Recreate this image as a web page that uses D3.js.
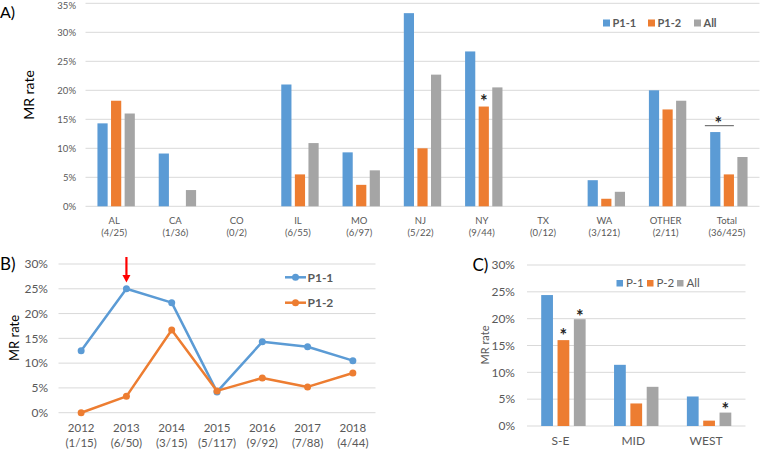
<!DOCTYPE html>
<html><head><meta charset="utf-8">
<script src="https://cdn.jsdelivr.net/npm/d3@7/dist/d3.min.js"></script>
<style>
html,body{margin:0;padding:0;background:#fff;}
svg text{font-family:Lato,"Liberation Sans",sans-serif;}
</style></head><body>
<svg id="c" width="760" height="449"></svg>
<script>
// Panel A data
const categoriesA = ["AL","CA","CO","IL","MO","NJ","NY","TX","WA","OTHER","Total"];
const countsA = ["(4/25)","(1/36)","(0/2)","(6/55)","(6/97)","(5/22)","(9/44)","(0/12)","(3/121)","(2/11)","(36/425)"];
const p11A = [14.3, 9.1, 0, 21.0, 9.3, 33.3, 26.7, 0, 4.5, 20.0, 12.8];
const p12A = [18.2, 0, 0, 5.5, 3.7, 10.0, 17.2, 0, 1.3, 16.7, 5.5];
const allA = [16.0, 2.8, 0, 10.9, 6.2, 22.7, 20.5, 0, 2.5, 18.2, 8.5];
const seriesA = ["P1-1","P1-2","All"];
const ticksA = [0,5,10,15,20,25,30,35];

// Panel B data
const years = ["2012","2013","2014","2015","2016","2017","2018"];
const yearCounts = ["(1/15)","(6/50)","(3/15)","(5/117)","(9/92)","(7/88)","(4/44)"];
const p11B = [12.5, 25.0, 22.2, 4.2, 14.3, 13.3, 10.5];
const p12B = [0, 3.3, 16.7, 4.4, 7.0, 5.2, 8.0];
const seriesB = ["P1-1","P1-2"];
const ticksB = [0,5,10,15,20,25,30];

// Panel C data
const regions = ["S-E","MID","WEST"];
const p1C = [24.4, 11.4, 5.5];
const p2C = [16.0, 4.2, 1.0];
const allC = [19.9, 7.3, 2.5];
const seriesC = ["P-1","P-2","All"];
const ticksC = [0,5,10,15,20,25,30];

const colors = ["#5B9BD5","#ED7D31","#A5A5A5"];
const txt = "#595959", grid = "#D9D9D9";
const svg = d3.select("#c");

function yAxis(g, y, ticks, x0, x1, labelX, fs, minY){
  g.selectAll(".gl").data(ticks).join("line")
    .attr("x1",x0).attr("x2",x1).attr("y1",d=>y(d)).attr("y2",d=>y(d))
    .attr("stroke",grid).attr("stroke-width",1);
  g.selectAll(".tl").data(ticks).join("text")
    .attr("x",labelX).attr("y",d=>Math.max(y(d), minY||0)).attr("dy","0.35em")
    .attr("text-anchor","end").attr("font-size",fs).attr("fill",txt)
    .text(d=>d+"%");
}
function star(g, x, y){
  g.append("text").attr("x",x).attr("y",y).attr("text-anchor","middle")
    .attr("font-family","'DejaVu Sans',sans-serif").attr("font-size",18)
    .attr("font-weight","bold").attr("fill","#262626").text("*");
}

// ---------- Panel A ----------
{
  const g = svg.append("g");
  const y = d3.scaleLinear().domain([0,35]).range([206.3,3.3]);
  const x = d3.scaleBand().domain(categoriesA).range([85.5,759.5]);
  yAxis(g, y, ticksA, 85.5, 759.5, 76, 9.5, 5.5);
  const gw = x.step()*0.61;
  const xs = d3.scaleBand().domain(seriesA).range([0,gw]).paddingInner(0.25);
  const vals = [p11A,p12A,allA];
  seriesA.forEach((s,si)=>{
    g.selectAll(".b"+si).data(categoriesA).join("rect")
      .attr("x",d=>x(d)+x.bandwidth()/2-gw/2+xs(s))
      .attr("width",xs.bandwidth())
      .attr("y",(d,i)=>y(vals[si][i]))
      .attr("height",(d,i)=>y(0)-y(vals[si][i]))
      .attr("fill",colors[si]);
  });
  categoriesA.forEach((c,i)=>{
    const cx = x(c)+x.bandwidth()/2-2;
    g.append("text").attr("x",cx).attr("y",223.5).attr("text-anchor","middle")
      .attr("font-size",9.5).attr("fill",txt).text(c);
    g.append("text").attr("x",cx).attr("y",235.5).attr("text-anchor","middle")
      .attr("font-size",9.5).attr("fill",txt).text(countsA[i]);
  });
  // asterisks
  const ny = categoriesA.indexOf("NY");
  star(g, x("NY")+x.bandwidth()/2-gw/2+xs("P1-2")+xs.bandwidth()/2, y(p12A[ny])+1.5);
  const tx = x("Total")+x.bandwidth()/2;
  g.append("line").attr("x1",tx-24).attr("x2",tx+5).attr("y1",125.7).attr("y2",125.7)
    .attr("stroke","#595959").attr("stroke-width",1);
  star(g, tx-10.5, 129.5);
  // legend
  const lx = [603,648,694];
  seriesA.forEach((s,i)=>{
    g.append("rect").attr("x",lx[i]).attr("y",19.5).attr("width",7).attr("height",7).attr("fill",colors[i]);
    g.append("text").attr("x",lx[i]+9.5).attr("y",23).attr("dy","0.35em").attr("font-size",11)
      .attr("font-weight","bold").attr("fill",txt).text(s);
  });
  g.append("text").attr("x",0).attr("y",12).attr("dy","0.35em").attr("font-size",16).attr("fill","#000").text("A)");
  g.append("text").attr("transform","translate(34,95) rotate(-90)").attr("text-anchor","middle")
    .attr("font-size",14).attr("fill","#000").text("MR rate");
}

// ---------- Panel B ----------
{
  const g = svg.append("g");
  const y = d3.scaleLinear().domain([0,30]).range([412.7,264]);
  const x = d3.scaleBand().domain(years).range([58.5,375.5]);
  yAxis(g, y, ticksB, 58.5, 375.5, 48, 12);
  const cx = d => x(d)+x.bandwidth()/2;
  [p11B,p12B].forEach((vals,si)=>{
    const line = d3.line().x((d,i)=>cx(years[i])).y(d=>y(d));
    g.append("path").datum(vals).attr("d",line).attr("fill","none")
      .attr("stroke",colors[si]).attr("stroke-width",2.5).attr("stroke-linejoin","round");
    g.selectAll(".m"+si).data(vals).join("circle")
      .attr("cx",(d,i)=>cx(years[i])).attr("cy",d=>y(d)).attr("r",3.5).attr("fill",colors[si]);
  });
  years.forEach((yr,i)=>{
    g.append("text").attr("x",cx(yr)).attr("y",432).attr("text-anchor","middle")
      .attr("font-size",11.5).attr("fill",txt).text(yr);
    g.append("text").attr("x",cx(yr)).attr("y",446.5).attr("text-anchor","middle")
      .attr("font-size",11.5).attr("fill",txt).text(yearCounts[i]);
  });
  // legend
  const ly = [277.3,302.7];
  seriesB.forEach((s,i)=>{
    g.append("line").attr("x1",285).attr("x2",306).attr("y1",ly[i]).attr("y2",ly[i])
      .attr("stroke",colors[i]).attr("stroke-width",2.5);
    g.append("circle").attr("cx",295.5).attr("cy",ly[i]).attr("r",3.5).attr("fill",colors[i]);
    g.append("text").attr("x",307.5).attr("y",ly[i]).attr("dy","0.35em").attr("font-size",12)
      .attr("font-weight","bold").attr("fill",txt).text(s);
  });
  // red arrow
  const ax = cx("2013");
  g.append("line").attr("x1",ax).attr("x2",ax).attr("y1",257).attr("y2",276)
    .attr("stroke","#FF0000").attr("stroke-width",2.2);
  g.append("path").attr("d",`M${ax-4},${275} L${ax+4},${275} L${ax},${282.5} Z`).attr("fill","#FF0000");
  g.append("text").attr("x",0).attr("y",264).attr("dy","0.35em").attr("font-size",17).attr("fill","#000").text("B)");
  g.append("text").attr("transform","translate(19,338) rotate(-90)").attr("text-anchor","middle")
    .attr("font-size",13).attr("fill","#000").text("MR rate");
}

// ---------- Panel C ----------
{
  const g = svg.append("g");
  const y = d3.scaleLinear().domain([0,30]).range([426,265]);
  const x = d3.scaleBand().domain(regions).range([527,745.5]);
  yAxis(g, y, ticksC, 527, 745.5, 515, 12);
  const gw = x.step()*0.61;
  const xs = d3.scaleBand().domain(seriesC).range([0,gw]).paddingInner(0.28);
  const vals = [p1C,p2C,allC];
  const bx = (c,s) => x(c)+x.bandwidth()/2-gw/2+xs(s);
  seriesC.forEach((s,si)=>{
    g.selectAll(".b"+si).data(regions).join("rect")
      .attr("x",d=>bx(d,s)).attr("width",xs.bandwidth())
      .attr("y",(d,i)=>y(vals[si][i]))
      .attr("height",(d,i)=>y(0)-y(vals[si][i]))
      .attr("fill",colors[si]);
  });
  regions.forEach(c=>{
    g.append("text").attr("x",x(c)+x.bandwidth()/2-3).attr("y",445).attr("text-anchor","middle")
      .attr("font-size",12).attr("fill",txt).text(c);
  });
  // asterisks
  const stars = [["S-E","P-2",p2C[0],1.5],["S-E","All",allC[0],3.5],["WEST","All",allC[2],3]];
  stars.forEach(([c,s,v,o])=>{
    star(g, bx(c,s)+xs.bandwidth()/2, y(v)+o);
  });
  const lx = [616.5,647,677];
  seriesC.forEach((s,i)=>{
    g.append("rect").attr("x",lx[i]).attr("y",280).attr("width",6.5).attr("height",6.5).attr("fill",colors[i]);
    g.append("text").attr("x",lx[i]+9.5).attr("y",283.3).attr("dy","0.35em").attr("font-size",11.5)
      .attr("fill",txt).text(s);
  });
  g.append("text").attr("x",472.5).attr("y",265).attr("dy","0.35em").attr("font-size",17).attr("fill","#000").text("C)");
  g.append("text").attr("transform","translate(489,345) rotate(-90)").attr("text-anchor","middle")
    .attr("font-size",11).attr("fill",txt).text("MR rate");
}
</script>
</body></html>
